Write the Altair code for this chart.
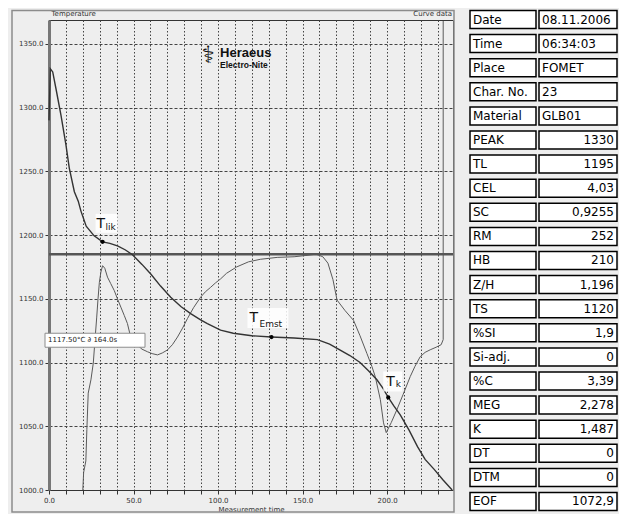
import altair as alt
import pandas as pd

# ---------------- data ----------------
cool_t = [0, 0.8, 2.2, 4.1, 7.1, 10, 12, 15, 17.3, 18.9, 22, 26.7, 31.7, 36, 40.5, 45, 49.4, 55,
          60.2, 66, 72, 78, 83.8, 89.7, 93.7, 101.5, 109, 120, 131.6, 145, 158.8, 166, 172, 178,
          184, 189, 194, 197.5, 200.7, 204, 207.8, 213, 218, 222.5, 228, 233, 238.5]
cool_T = [1290, 1330.5, 1328, 1315, 1294, 1271, 1252.6, 1234, 1226.6, 1218.8, 1207, 1199.4, 1194.7,
          1193.5, 1191.6, 1188.5, 1184.6, 1177, 1169.5, 1160, 1151.3, 1144, 1138.4, 1133.5, 1130.6,
          1125.4, 1123, 1121, 1120, 1119.2, 1118, 1114.5, 1110, 1105.5, 1100, 1093.5, 1086.5, 1080,
          1072.6, 1066, 1059, 1047, 1034, 1024, 1016, 1008, 1000]

der_t = [20, 20.5, 21.8, 22.4, 23.2, 24.8, 26.2, 27.2, 28.2, 29.0, 29.8, 30.7, 31.7, 33, 34.6, 36.5,
         38.6, 40.5, 42.5, 44.5, 46.4, 47.8, 50, 52.3, 55, 58.2, 61, 64.2, 67, 70, 73, 76, 79, 81.9,
         85.5, 89.7, 92.5, 95.6, 98.5, 101.5, 105, 111, 118, 125, 135, 145, 152, 158, 162, 165, 168,
         170.4, 175, 180.2, 184, 188.1, 191, 193, 194.5, 196, 197.9, 199.5, 202.5, 205.8, 209.5,
         213.7, 216.5, 219.6, 222.5, 225.5, 229, 232, 233.2, 233.2]
der_T = [1000, 1013.8, 1022.8, 1047.5, 1076, 1086.4, 1099.5, 1117.6, 1135, 1150, 1163, 1171, 1176,
         1174, 1167, 1162, 1156.5, 1150, 1143.5, 1137, 1130.6, 1122.8, 1118, 1113.7, 1110.5, 1108.5,
         1107, 1106, 1107.5, 1109.8, 1114, 1120, 1127, 1134.5, 1143, 1151.3, 1155.5, 1159, 1162.5,
         1165.6, 1170, 1175, 1179, 1181, 1182.5, 1183, 1184, 1185, 1183, 1178, 1165, 1149, 1141, 1133,
         1121, 1107, 1097, 1089, 1080, 1071, 1052.7, 1045, 1053, 1063, 1075, 1089, 1097, 1104.6, 1108,
         1110, 1112, 1114, 1118, 1368]

level_T = 1185
marker_sub = ["lik", "Emst", "k"]
marker_t = [31.7, 131.6, 200.7]
marker_T = [1194.7, 1120.0, 1072.6]
ann_T = 1117.50
ann_time = 164.0
logo_t = [101.2, 101.2]
logo_T = [1339.7, 1331.1]
logo_text = ["Heraeus", "Electro-Nite"]

x_ticks = list(range(0, 240, 10))
y_ticks = [1000, 1050, 1100, 1150, 1200, 1250, 1300, 1350]

table_labels = ["Date", "Time", "Place", "Char. No.", "Material", "PEAK", "TL", "CEL", "SC", "RM",
                "HB", "Z/H", "TS", "%SI", "Si-adj.", "%C", "MEG", "K", "DT", "DTM", "EOF"]
table_values = ["08.11.2006", "06:34:03", "FOMET", "23", "GLB01", "1330", "1195", "4,03", "0,9255",
                "252", "210", "1,196", "1120", "1,9", "0", "3,39", "2,278", "1,487", "0", "0", "1072,9"]
text_rows = 5  # first rows are left aligned text

# ---------------- chart ----------------
W, H = 404, 470
FONT = "DejaVu Sans"
BG = "#eeeeee"

cool_df = pd.DataFrame({"t": cool_t, "T": cool_T, "i": range(len(cool_t))})
der_df = pd.DataFrame({"t": der_t, "T": der_T, "i": range(len(der_t))})
mk_df = pd.DataFrame({"t": marker_t, "T": marker_T, "sub": marker_sub})
ann_df = pd.DataFrame({"T": [ann_T], "time": [ann_time]})
logo_df = pd.DataFrame({"t": logo_t, "T": logo_T, "txt": logo_text})
one = pd.DataFrame({"a": [0]})

xscale = alt.Scale(domain=[0, 239], nice=False, zero=False)
yscale = alt.Scale(domain=[1000, 1368.75], nice=False, zero=False)

xaxis = alt.Axis(values=x_ticks, labelExpr="datum.value % 50 == 0 ? format(datum.value, '.1f') : ''",
                 labelOverlap=False, labelFlush=False, grid=True, gridDash=[1.5, 2], gridColor="#444",
                 gridOpacity=1, tickSize=4, tickColor="#333", domainColor="#333", labelFontSize=7,
                 labelFont=FONT, labelColor="#333", labelPadding=2, title="Measurement time",
                 titleFontSize=7, titleFont=FONT, titleFontWeight="normal", titleColor="#333",
                 titlePadding=2)
yaxis = alt.Axis(values=y_ticks, format=".1f", grid=True, gridDash=[3, 2], gridColor="#444",
                 gridOpacity=1, tickSize=4, tickColor="#333", domainColor="#777", domainWidth=3,
                 labelFontSize=7, labelFont=FONT, labelColor="#333", labelPadding=2,
                 title="Temperature", titleAngle=0, titleAlign="left", titleBaseline="alphabetic",
                 titleX=2, titleY=-5, titleFontSize=7, titleFont=FONT, titleFontWeight="normal",
                 titleColor="#333")
X = alt.X("t:Q", scale=xscale, axis=xaxis)
Y = alt.Y("T:Q", scale=yscale, axis=yaxis)

frame = alt.Chart(one).mark_rect(fillOpacity=0, stroke="#8c8c8c", strokeWidth=1.5).encode(
    x=alt.value(-37), x2=alt.value(405), y=alt.value(-9.5), y2=alt.value(492))

der_line = alt.Chart(der_df).mark_line(color="#5a5a5a", strokeWidth=1).encode(x=X, y=Y, order="i:Q")
cool_line = alt.Chart(cool_df).mark_line(color="#333333", strokeWidth=1.4).encode(x=X, y=Y, order="i:Q")
level = alt.Chart(pd.DataFrame({"T": [level_T]})).mark_rule(color="#555", strokeWidth=2.5).encode(y=Y)

box_specs = {"lik": (-7, 15, -28, -9), "Emst": (-24, 17, -29, -9), "k": (-5, 14, -26, -6)}
t_specs = {"lik": (-6, -14, 3, -12), "Emst": (-22, -15, -12, -10), "k": (-2, -11, 7.5, -10)}
label_layers = []
for s in marker_sub:
    d = mk_df[mk_df["sub"] == s]
    bx0, bx1, by0, by1 = box_specs[s]
    label_layers.append(alt.Chart(d).mark_rect(fill="white", fillOpacity=0.85, xOffset=bx0,
                                               x2Offset=bx1, yOffset=by0, y2Offset=by1).encode(
        x=X, x2="t:Q", y=Y, y2="T:Q"))
    tdx, tdy, sdx, sdy = t_specs[s]
    label_layers.append(alt.Chart(d).mark_text(text="T", fontSize=14, font=FONT, align="left",
                                               baseline="alphabetic", dx=tdx, dy=tdy, color="#111").encode(
        x=X, y=Y))
    label_layers.append(alt.Chart(d).mark_text(fontSize=9, font=FONT, align="left",
                                               baseline="alphabetic", dx=sdx, dy=sdy, color="#111").encode(
        x=X, y=Y, text="sub:N"))

dots = alt.Chart(mk_df).mark_point(filled=True, color="black", size=18, opacity=1).encode(x=X, y=Y)

ann_box = alt.Chart(ann_df).mark_rect(fill="white", stroke="#8c8c8c", strokeWidth=1, yOffset=-7,
                                      y2Offset=7).encode(
    x=alt.value(-4), x2=alt.value(96), y=Y, y2="T:Q")
ann_text = alt.Chart(ann_df).transform_calculate(
    lbl="format(datum.T, '.2f') + '°C  ∂  ' + format(datum.time, '.1f') + 's'"
).mark_text(align="left", baseline="middle", fontSize=7, font=FONT, color="#222").encode(
    x=alt.value(-1), y=Y, text="lbl:N")

logo_icon = alt.Chart(logo_df.iloc[[0]]).mark_text(text="⚕", fontSize=24, font=FONT, color="#111",
                                                  baseline="alphabetic", align="center", dx=-12,
                                                  dy=6).encode(x=X, y=Y)
logo1 = alt.Chart(logo_df.iloc[[0]]).mark_text(fontSize=13, fontWeight="bold", font="Liberation Sans",
                                               align="left", baseline="alphabetic", color="#111").encode(
    x=X, y=Y, text="txt:N")
logo2 = alt.Chart(logo_df.iloc[[1]]).mark_text(fontSize=8.5, fontWeight="bold", font="Liberation Sans",
                                               align="left", baseline="alphabetic", color="#111").encode(
    x=X, y=Y, text="txt:N")
curve_data = alt.Chart(one).mark_text(text="Curve data", fontSize=7, font=FONT, align="right",
                                      baseline="alphabetic", color="#333").encode(
    x=alt.value(W - 1), y=alt.value(-4))

plot = alt.layer(frame, der_line, level, cool_line, *label_layers, dots, ann_box, ann_text,
                 logo_icon, logo1, logo2, curve_data).properties(
    width=W, height=H, view=alt.ViewBackground(stroke="#333", strokeWidth=1))

# ---------------- table ----------------
tab_df = pd.DataFrame({"label": table_labels, "value": table_values,
                       "idx": range(len(table_labels))})
tab_df["kind"] = ["text" if i < text_rows else "num" for i in tab_df["idx"]]
tscale = alt.Scale(domain=[0.0207, 19.523], reverse=True, nice=False, zero=False)
TY = alt.Y("idx:Q", scale=tscale, axis=None)
tbase = alt.Chart(tab_df).transform_calculate(y0="datum.idx - 0.373", y1="datum.idx + 0.373")
lab_box = tbase.mark_rect(fill="white", stroke="black", strokeWidth=1.5).encode(
    x=alt.value(0), x2=alt.value(66), y=alt.Y("y0:Q", scale=tscale, axis=None), y2="y1:Q")
val_box = tbase.mark_rect(fill="white", stroke="black", strokeWidth=1.5).encode(
    x=alt.value(69), x2=alt.value(147), y=alt.Y("y0:Q", scale=tscale, axis=None), y2="y1:Q")
lab_txt = tbase.mark_text(align="left", baseline="middle", fontSize=12, font=FONT, color="black").encode(
    x=alt.value(3), y=TY, text="label:N")
val_txt_l = tbase.transform_filter("datum.kind == 'text'").mark_text(
    align="left", baseline="middle", fontSize=12, font=FONT, color="black").encode(
    x=alt.value(72), y=TY, text="value:N")
val_txt_r = tbase.transform_filter("datum.kind == 'num'").mark_text(
    align="right", baseline="middle", fontSize=12, font=FONT, color="black").encode(
    x=alt.value(144), y=TY, text="value:N")
table = alt.layer(lab_box, val_box, lab_txt, val_txt_l, val_txt_r).properties(width=147, height=H)

chart = alt.hconcat(plot, table, spacing=12).properties(
    padding={"left": 2, "top": 0, "right": 0, "bottom": 0}, background=BG
).configure_view(stroke="transparent")

chart.save("out.html", embed_options={"renderer": "svg", "actions": False})
